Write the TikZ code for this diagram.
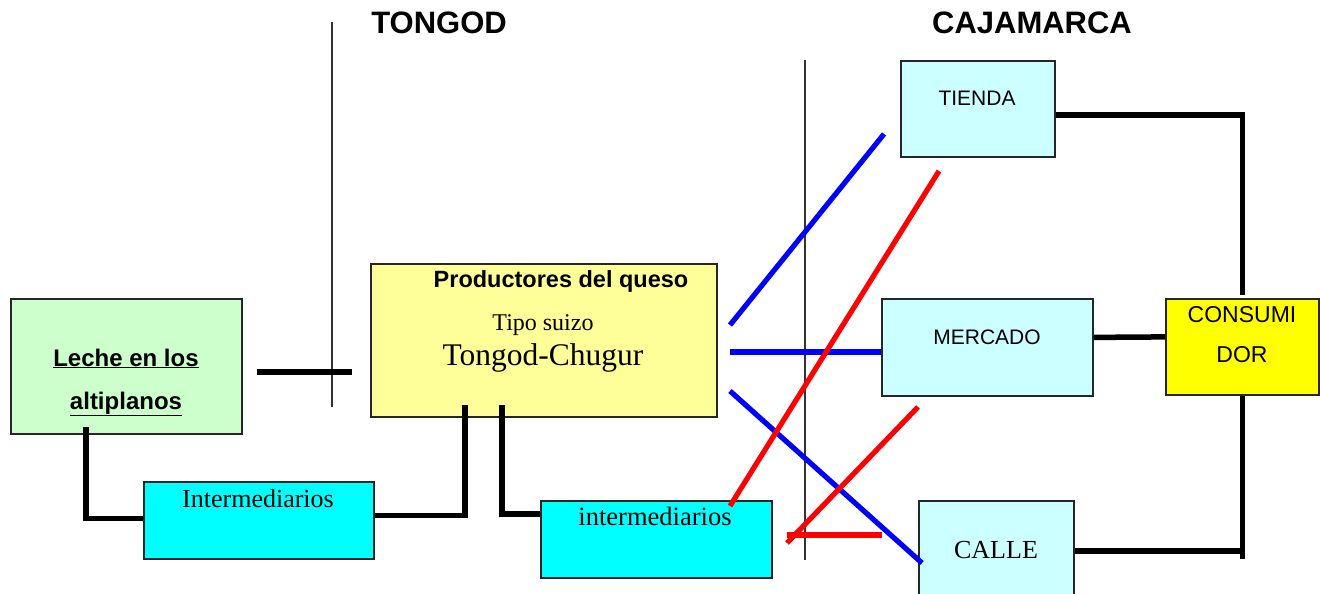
\documentclass[tikz,border=0pt]{standalone}
\usepackage{fontspec}
\setmainfont{Liberation Serif}
\setsansfont{Liberation Sans}
\usetikzlibrary{calc}

\definecolor{verde}{HTML}{CCFFCC}
\definecolor{crema}{HTML}{FFFF99}
\definecolor{celeste}{HTML}{CCFFFF}
\definecolor{cian}{HTML}{00FFFF}
\definecolor{amarillo}{HTML}{FFFF00}
\definecolor{azul}{HTML}{0000FF}
\definecolor{rojo}{HTML}{FF0000}

\newcommand{\tam}[1]{\fontsize{#1}{#1}\selectfont}

\tikzset{
  caja/.style={draw=black!85, line width=1.8pt, anchor=north west, inner sep=0pt},
  texto/.style={anchor=base, inner sep=0pt},
  raya/.style={line width=5.5pt},
  flechaazul/.style={line width=5.2pt, azul},
  flecharoja/.style={line width=5.2pt, rojo},
  limite/.style={line width=1.2pt, black!80}
}

\begin{document}
\begin{tikzpicture}[x=1pt, y=-1pt]
\useasboundingbox (0,0) rectangle (1320,594);

% titulos
\node[texto, font=\sffamily\bfseries\tam{31}] (tongod) at (439,33.5) {TONGOD};
\node[texto, font=\sffamily\bfseries\tam{31}] (cajamarca) at (1032,33.5) {CAJAMARCA};

% lineas de limite
\draw[limite] (332,22) -- (332,407);
\draw[limite] (805,60) -- (805,560);

% cajas
\node[caja, fill=verde, minimum width=231pt, minimum height=135pt] (leche) at (10,298) {};
\node[caja, fill=crema, minimum width=346pt, minimum height=153pt] (productores) at (370,263) {};
\node[caja, fill=cian, minimum width=230pt, minimum height=77pt] (inter1) at (143,481) {};
\node[caja, fill=cian, minimum width=231pt, minimum height=77pt] (inter2) at (540,500) {};
\node[caja, fill=celeste, minimum width=154pt, minimum height=96pt] (tienda) at (900,60) {};
\node[caja, fill=celeste, minimum width=211pt, minimum height=97pt] (mercado) at (881,298) {};
\node[caja, fill=celeste, minimum width=155pt, minimum height=100pt] (calle) at (918,500) {};
\node[caja, fill=amarillo, minimum width=153pt, minimum height=96pt] (consumidor) at (1165,298) {};

% textos de las cajas
\node[texto, font=\sffamily\bfseries\tam{24}] (lecheA) at (126,366) {\underline{Leche en los}};
\node[texto, font=\sffamily\bfseries\tam{24}] (lecheB) at (126,409) {\underline{altiplanos}};
\node[texto, font=\sffamily\bfseries\tam{23.5}] (prodA) at (561,287) {Productores del queso};
\node[texto, font=\tam{24}] (prodB) at (543,330) {Tipo suizo};
\node[texto, font=\tam{31.5}] (prodC) at (543,365) {Tongod-Chugur};
\node[texto, font=\tam{26}] (inter1T) at (258,507) {Intermediarios};
\node[texto, font=\tam{26.5}] (inter2T) at (655,525) {intermediarios};
\node[texto, font=\sffamily\tam{21}] (tiendaT) at (977,106) {TIENDA};
\node[texto, font=\sffamily\tam{21}] (mercadoT) at (987,344) {MERCADO};
\node[texto, font=\sffamily\tam{23}] (consA) at (1242,322) {CONSUMI};
\node[texto, font=\sffamily\tam{23}] (consB) at (1242,362) {DOR};
\node[texto, font=\tam{26}] (calleT) at (996,558) {CALLE};

% puntos sueltos
\coordinate (lecheDer) at (257,372);
\coordinate (prodIzq) at (352,372);
\coordinate (lecheAbajo) at (86,427);
\coordinate (prodPataA) at (465,405);
\coordinate (prodPataB) at (502,405);
\coordinate (azulA1) at (730,325);
\coordinate (azulA2) at (884,134);
\coordinate (azulB1) at (730,352);
\coordinate (azulC1) at (730,391);
\coordinate (azulC2) at (922,563);
\coordinate (rojoA1) at (730,506);
\coordinate (rojoA2) at (939,171);
\coordinate (rojoB1) at (787,543);
\coordinate (rojoB2) at (918,407);
\coordinate (rojoC1) at (787,535);
\coordinate (rojoC2) at (882,535);

% conexiones negras
\draw[raya] (lecheDer) -- (prodIzq);
\draw[raya] (lecheAbajo) |- ($(inter1.west)+(0,-2)$);
\draw[raya] ($(inter1.east)+(0,-5)$) -| (prodPataA);
\draw[raya] (prodPataB) |- ($(inter2.north west)+(0,14)$);
\draw[raya] ($(tienda.east)+(0,6)$) -| ($(consumidor.north)+(0,-3)$);
\draw[raya] ($(mercado.east)+(0,-10)$) -- ($(consumidor.west)+(0,-10)$);
\draw[raya] (consumidor.south) -- ++(0,163);
\draw[raya] (calle.east) -- (calle.east -| consumidor.south);

% lineas azules y rojas
\draw[flechaazul] (azulA1) -- (azulA2);
\draw[flechaazul] (azulB1) -- (azulB1 -| mercado.west);
\draw[flechaazul] (azulC1) -- (azulC2);
\draw[flecharoja] (rojoA1) -- (rojoA2);
\draw[flecharoja] (rojoB1) -- (rojoB2);
\draw[flecharoja] (rojoC1) -- (rojoC2);
\end{tikzpicture}
\end{document}
